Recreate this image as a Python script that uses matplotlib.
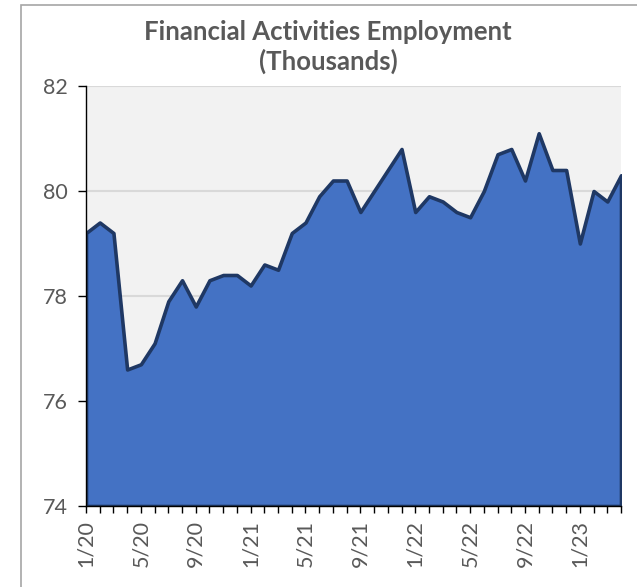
import matplotlib
matplotlib.use("Agg")
import matplotlib.pyplot as plt
from matplotlib.patches import Rectangle

months = ["1/20", "2/20", "3/20", "4/20", "5/20", "6/20", "7/20", "8/20", "9/20", "10/20", "11/20", "12/20",
          "1/21", "2/21", "3/21", "4/21", "5/21", "6/21", "7/21", "8/21", "9/21", "10/21", "11/21", "12/21",
          "1/22", "2/22", "3/22", "4/22", "5/22", "6/22", "7/22", "8/22", "9/22", "10/22", "11/22", "12/22",
          "1/23", "2/23", "3/23", "4/23"]
employment = [79.2, 79.4, 79.2, 76.6, 76.7, 77.1, 77.9, 78.3, 77.8, 78.3, 78.4, 78.4,
              78.2, 78.6, 78.5, 79.2, 79.4, 79.9, 80.2, 80.2, 79.6, 80.0, 80.4, 80.8,
              79.6, 79.9, 79.8, 79.6, 79.5, 80.0, 80.7, 80.8, 80.2, 81.1, 80.4, 80.4,
              79.0, 80.0, 79.8, 80.3]
y_ticks = [74, 76, 78, 80, 82]
title = "Financial Activities Employment\n(Thousands)"

plt.rcParams['font.family'] = ['Lato', 'DejaVu Sans']

W, H = 637, 587
fig = plt.figure(figsize=(W / 100, H / 100), dpi=100)
fig.patch.set_facecolor("white")

# chart border
fig.patches.append(Rectangle((21 / W, -0.01), 1.0, 1 - 5 / H + 0.01, transform=fig.transFigure,
                             fill=False, edgecolor="#A6A6A6", linewidth=1.2))

left, right, top, bottom = 86, 621, 86, 506
ax = fig.add_axes([left / W, 1 - bottom / H, (right - left) / W, (bottom - top) / H])
ax.set_facecolor("#F2F2F2")

x = list(range(len(months)))
ax.fill_between(x, 74, employment, facecolor="#4472C4", edgecolor="#1F3864", linewidth=2.6, zorder=2)

ax.set_xlim(0, len(months) - 1)
ax.set_ylim(74, 82)
ax.set_yticks(y_ticks)
ax.set_yticklabels([str(v) for v in y_ticks])
ax.yaxis.grid(True, color="#D9D9D9", linewidth=1.5, zorder=0)
ax.set_axisbelow(True)

ax.set_xticks(x)
ax.set_xticklabels([m if i % 4 == 0 else "" for i, m in enumerate(months)], rotation=90)

for s in ["top", "right"]:
    ax.spines[s].set_visible(False)
for s in ["left", "bottom"]:
    ax.spines[s].set_color("black")
    ax.spines[s].set_linewidth(1.0)
    ax.spines[s].set_zorder(3)

ax.tick_params(axis="y", direction="out", length=6, width=1, color="black",
               labelsize=15.5, labelcolor="#595959", pad=7)
ax.tick_params(axis="x", direction="out", length=5, width=1, color="black",
               labelsize=15.5, labelcolor="#595959", pad=5)

fig.text(328 / W, 1 - 47 / H, title, ha="center", va="center", fontsize=18.5,
         fontweight="bold", color="#595959", linespacing=1.2)

fig.savefig("out.png", dpi=100, facecolor="white")
